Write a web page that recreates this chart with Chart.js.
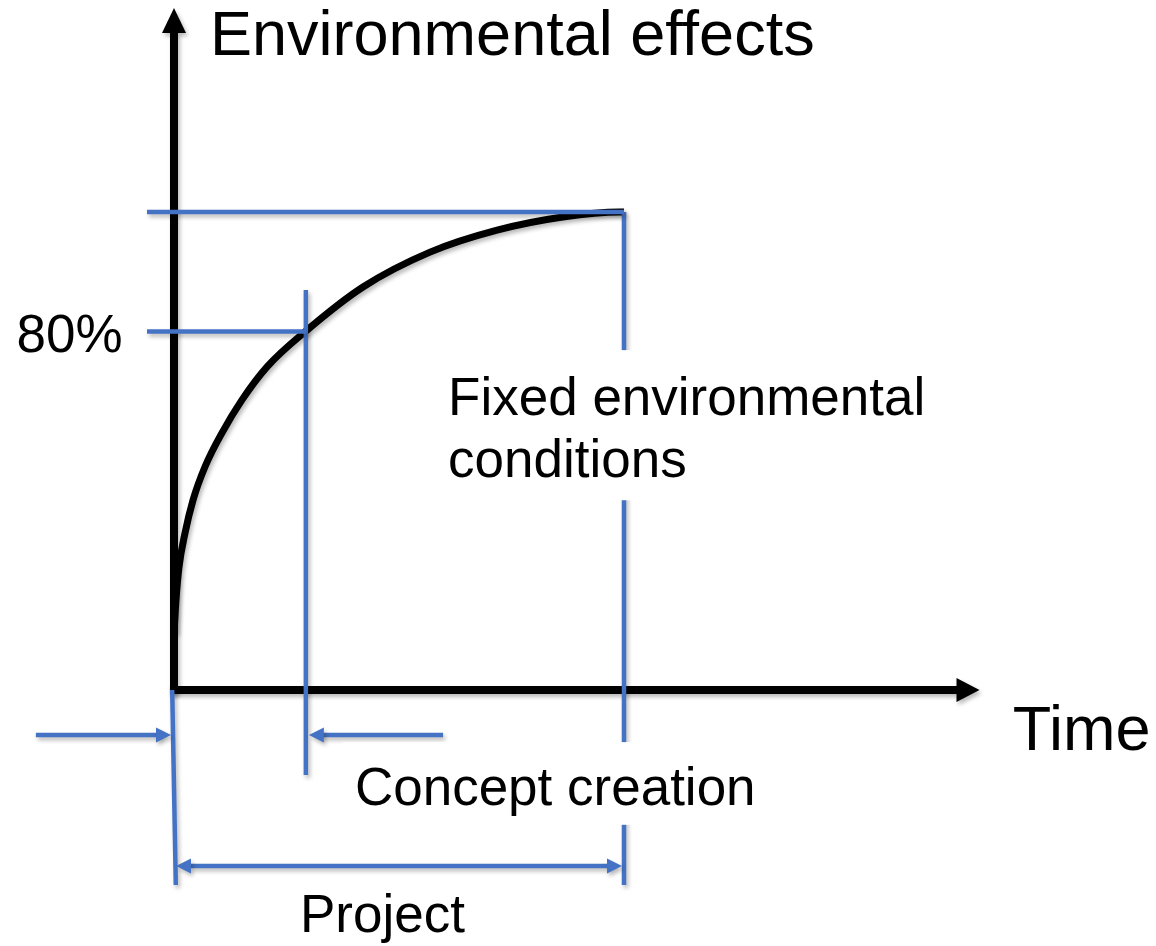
<!DOCTYPE html>
<html>
<head>
<meta charset="utf-8">
<script src="https://cdn.jsdelivr.net/npm/chart.js@4"></script>
<style>
  html, body { margin: 0; padding: 0; background: #fff; }
  #wrap { width: 1156px; height: 946px; position: relative; }
</style>
</head>
<body>
<div id="wrap"><canvas id="chart"></canvas></div>
<script>
// --- data (time in arbitrary units, effect in % of the final value) ---
const curveTime   = [0, 0.044, 0.111, 0.244, 0.422, 0.689, 1.067, 1.511, 2.067, 2.933, 4.2, 5.69, 7.18, 8.64, 9.91, 10];
const curveEffect = [11.9, 18.8, 25.7, 32.8, 39.7, 46.7, 53.8, 60.7, 67.6, 75.1, 84.3, 91.6, 96.2, 98.95, 100, 100];
const levels      = [100, 75];          // full effect, the "80%" mark as drawn
const levelLabels = ['', '80%'];
const milestones  = [0, 2.93, 10];      // project start, concept done, project end
const axisTitles  = ['Environmental effects', 'Time'];
const noteLines   = ['Fixed environmental', 'conditions'];
const phaseLabels = ['Concept creation', 'Project'];

const BLUE = '#4472C4';
const FONT = '"Liberation Sans", Arial, Helvetica, sans-serif';

function seg(x1, y1, x2, y2, color, width, order) {
    return {
        data: [{ x: x1, y: y1 }, { x: x2, y: y2 }],
        showLine: true, borderColor: color, borderWidth: width,
        pointRadius: 0, clip: false, order: order, borderCapStyle: 'butt'
    };
}

const [start, conceptEnd, projectEnd] = milestones;
const [fullLevel, markLevel] = levels;

const datasets = [
    // blue guide lines (drawn on top)
    seg(-0.6, fullLevel, projectEnd, fullLevel, BLUE, 4.5, 0),
    seg(-0.6, markLevel, conceptEnd, markLevel, BLUE, 4.5, 0),
    seg(conceptEnd, 83.7, conceptEnd, -17.8, BLUE, 4.5, 0),
    seg(projectEnd, fullLevel, projectEnd, -40.8, BLUE, 4.5, 0),
    seg(start - 0.04, 0, start + 0.04, -40.8, BLUE, 4.5, 0),
    seg(-3.07, -9.4, start - 0.3, -9.4, BLUE, 4.5, 0),
    seg(5.98, -9.4, conceptEnd + 0.3, -9.4, BLUE, 4.5, 0),
    seg(start + 0.35, -36.8, projectEnd - 0.35, -36.8, BLUE, 4.5, 0),
    // effect curve
    {
        data: curveTime.map((t, i) => ({ x: t, y: curveEffect[i] })),
        showLine: true, borderColor: '#000', borderWidth: 7, pointRadius: 0,
        cubicInterpolationMode: 'monotone', clip: false, order: 1
    },
    // axes
    seg(start, -0.8, start, 137.7, '#000', 8, 2),
    seg(start - 0.09, 0, 17.4, 0, '#000', 8, 2)
];

function arrowHead(ctx, tipX, tipY, dx, dy, len, half, color) {
    // dx, dy: unit direction the arrow points to
    const bx = tipX - dx * len, by = tipY - dy * len;
    ctx.fillStyle = color;
    ctx.beginPath();
    ctx.moveTo(tipX, tipY);
    ctx.lineTo(bx - dy * half, by + dx * half);
    ctx.lineTo(bx + dy * half, by - dx * half);
    ctx.closePath();
    ctx.fill();
}

const diagramPlugin = {
    id: 'diagram',
    beforeDatasetsDraw(chart) {
        const ctx = chart.ctx;
        ctx.save();
        ctx.shadowColor = 'rgba(0,0,0,0.28)';
        ctx.shadowBlur = 4;
        ctx.shadowOffsetX = 2;
        ctx.shadowOffsetY = 3;
    },
    afterDatasetsDraw(chart) {
        const ctx = chart.ctx;
        const xs = chart.scales.x, ys = chart.scales.y;
        const px = v => xs.getPixelForValue(v);
        const py = v => ys.getPixelForValue(v);

        // arrow heads
        arrowHead(ctx, px(start), py(142.7), 0, -1, 25, 12, '#000');
        arrowHead(ctx, px(17.9), py(0), 1, 0, 23, 12, '#000');
        arrowHead(ctx, px(start) - 3, py(-9.4), 1, 0, 15, 7.5, BLUE);
        arrowHead(ctx, px(conceptEnd) + 3, py(-9.4), -1, 0, 15, 7.5, BLUE);
        arrowHead(ctx, px(start) + 2, py(-36.8), -1, 0, 15, 7.5, BLUE);
        arrowHead(ctx, px(projectEnd) - 2, py(-36.8), 1, 0, 15, 7.5, BLUE);
        ctx.restore();

        // white boxes behind the notes (they cut the project-end line)
        ctx.fillStyle = '#fff';
        ctx.fillRect(px(5.9), py(71.1), px(16.9) - px(5.9), py(39.7) - py(71.1));
        ctx.fillRect(px(3.76), py(-10.9), px(13.1) - px(3.76), py(-28.2) - py(-10.9));

        // texts
        ctx.fillStyle = '#000';
        ctx.textAlign = 'left';
        ctx.textBaseline = 'alphabetic';
        ctx.font = '63px ' + FONT;
        ctx.fillText(axisTitles[0], px(0.8), py(132.8));
        ctx.font = '63px ' + FONT;
        ctx.fillText(axisTitles[1], px(18.64), py(-12.6));
        ctx.font = '53px ' + FONT;
        ctx.fillText(levelLabels[1], px(-3.5), py(70.7));
        ctx.fillText(noteLines[0], px(6.09), py(57.5));
        ctx.fillText(noteLines[1], px(6.09), py(44.6));
        ctx.fillText(phaseLabels[0], px(4.02), py(-24.1));
        ctx.fillText(phaseLabels[1], px(2.8), py(-50.6));
    }
};

new Chart(document.getElementById('chart'), {
    type: 'scatter',
    data: { datasets: datasets },
    options: {
        responsive: true,
        maintainAspectRatio: false,
        animation: false,
        events: [],
        layout: { padding: { left: 174, right: 532, top: 212, bottom: 256 } },
        scales: {
            x: { type: 'linear', min: 0, max: 10, display: false },
            y: { type: 'linear', min: 0, max: 100, display: false }
        },
        plugins: { legend: { display: false }, tooltip: { enabled: false } }
    },
    plugins: [diagramPlugin]
});
</script>
</body>
</html>
